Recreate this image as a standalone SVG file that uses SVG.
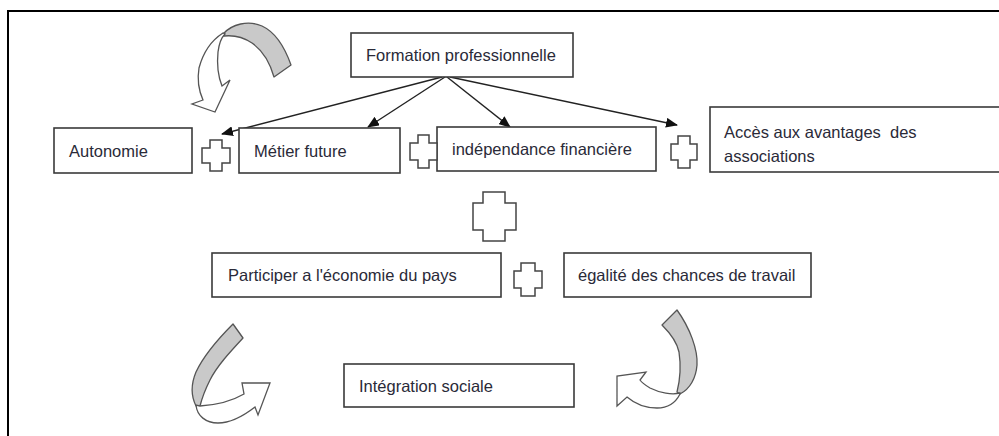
<svg xmlns="http://www.w3.org/2000/svg" width="999" height="436" viewBox="0 0 999 436">
  <style>
    .box { fill: #ffffff; stroke: #3a3a3a; stroke-width: 1.6; }
    .lbl { font-family: "Liberation Sans", Arial, sans-serif; font-size: 16.5px; fill: #2a2a38; }
    .plus { fill: #ffffff; stroke: #444444; stroke-width: 1.5; stroke-linejoin: miter; }
    .edge { fill: none; stroke: #222222; stroke-width: 1.4; }
    .band-back { fill: #c9c9c9; stroke: #555555; stroke-width: 1.3; stroke-linejoin: round; }
    .band-front { fill: #ffffff; stroke: #555555; stroke-width: 1.3; stroke-linejoin: miter; }
    .frame { stroke: #000000; stroke-width: 2; fill: none; }
  </style>
  <defs>
    <marker id="tri" viewBox="0 0 12 10" refX="11" refY="5" markerWidth="12" markerHeight="10" markerUnits="userSpaceOnUse" orient="auto">
      <path d="M0,0 L12,5 L0,10 Z" fill="#111111"/>
    </marker>
  </defs>

  <rect width="999" height="436" fill="#ffffff"/>

  <!-- outer frame: top and left edges only -->
  <path class="frame" d="M8,436 L8,11 L999,11"/>

  <!-- connectors fanning out from the top box -->
  <g id="connectors">
    <line class="edge" x1="442" y1="77" x2="222" y2="134" marker-end="url(#tri)"/>
    <line class="edge" x1="445" y1="77" x2="368" y2="127" marker-end="url(#tri)"/>
    <line class="edge" x1="447" y1="77" x2="510" y2="127" marker-end="url(#tri)"/>
    <line class="edge" x1="450" y1="77" x2="677" y2="125" marker-end="url(#tri)"/>
  </g>

  <g id="formation">
    <rect class="box" x="351" y="33" width="222" height="44"/>
    <text class="lbl" x="366" y="61">Formation professionnelle</text>
  </g>

  <g id="autonomie">
    <rect class="box" x="54" y="128" width="138" height="45"/>
    <text class="lbl" x="69" y="156.5">Autonomie</text>
  </g>

  <g id="metier">
    <rect class="box" x="239" y="128" width="161" height="45"/>
    <text class="lbl" x="254" y="156.5">Métier future</text>
  </g>

  <g id="independance">
    <rect class="box" x="437" y="127" width="219" height="44"/>
    <text class="lbl" x="452" y="155">indépendance financière</text>
  </g>

  <g id="acces">
    <rect class="box" x="710" y="107" width="300" height="65"/>
    <text class="lbl" x="724" y="138" xml:space="preserve">Accès aux avantages  des</text>
    <text class="lbl" x="724" y="162">associations</text>
  </g>

  <g id="participer">
    <rect class="box" x="212" y="253" width="289" height="44"/>
    <text class="lbl" x="228" y="281">Participer a l'économie du pays</text>
  </g>

  <g id="egalite">
    <rect class="box" x="564" y="253" width="247" height="44"/>
    <text class="lbl" x="578" y="281">égalité des chances de travail</text>
  </g>

  <g id="integration">
    <rect class="box" x="344" y="364" width="230" height="43"/>
    <text class="lbl" x="359" y="391.5">Intégration sociale</text>
  </g>

  <!-- plus signs -->
  <g id="plus-1">
    <path class="plus" d="M210,140 H222 V148 H230 V163 H222 V171 H210 V163 H202 V148 H210 Z"/>
  </g>
  <g id="plus-2">
    <path class="plus" d="M418,135 H429 V143 H437 V160 H429 V168 H418 V160 H410 V143 H418 Z"/>
  </g>
  <g id="plus-3">
    <path class="plus" d="M678,136 H690 V144 H697 V160 H690 V168 H678 V160 H671 V144 H678 Z"/>
  </g>
  <g id="plus-big">
    <path class="plus" d="M483,192 H505 V203 H516 V230 H505 V241 H483 V230 H473 V203 H483 Z"/>
  </g>
  <g id="plus-4">
    <path class="plus" d="M521,263 H535 V271 H542 V288 H535 V296 H521 V288 H514 V271 H521 Z"/>
  </g>

  <!-- curved arrow, top left -->
  <g id="curve-top">
    <path class="band-back" d="M223,34 C232,24 248,20 262,26 C275,32 285,48 291,65 L274,77 C270,63 262,50 252,43 C243,37 233,35 224,36 Z"/>
    <path class="band-front" d="M223,33 C212,40 203,53 199,68 C197,80 199,91 203,100 L192,104 L215,112 L230,80 L222,86 C218,76 217,62 218,52 C219,44 221,38 225,34 Z"/>
  </g>

  <!-- curved arrow, bottom left -->
  <g id="curve-left">
    <path class="band-back" d="M233,324 L243,338 C230,352 217,366 210,380 C205,390 202,398 200,406 L196,406 C191,396 191,384 196,372 C204,355 219,338 233,324 Z"/>
    <path class="band-front" d="M196,405 C197,416 206,423 218,423 C232,423 246,414 255,407 L258,415 L270,383 L242,383 L244,394 C232,401 216,405 200,406 Z"/>
  </g>

  <!-- curved arrow, bottom right -->
  <g id="curve-right">
    <path class="band-back" d="M662,325 L677,310 C690,328 698,350 697,365 C696,378 690,389 680,394 L677,392 C680,380 681,365 679,352 C677,342 670,333 662,325 Z"/>
    <path class="band-front" d="M680,393 C672,395 660,393 650,388 C645,385 642,383 640,380 L646,372 L617,376 L617,406 L627,397 C634,403 645,408 657,408 C668,408 676,402 680,394 Z"/>
  </g>
</svg>
